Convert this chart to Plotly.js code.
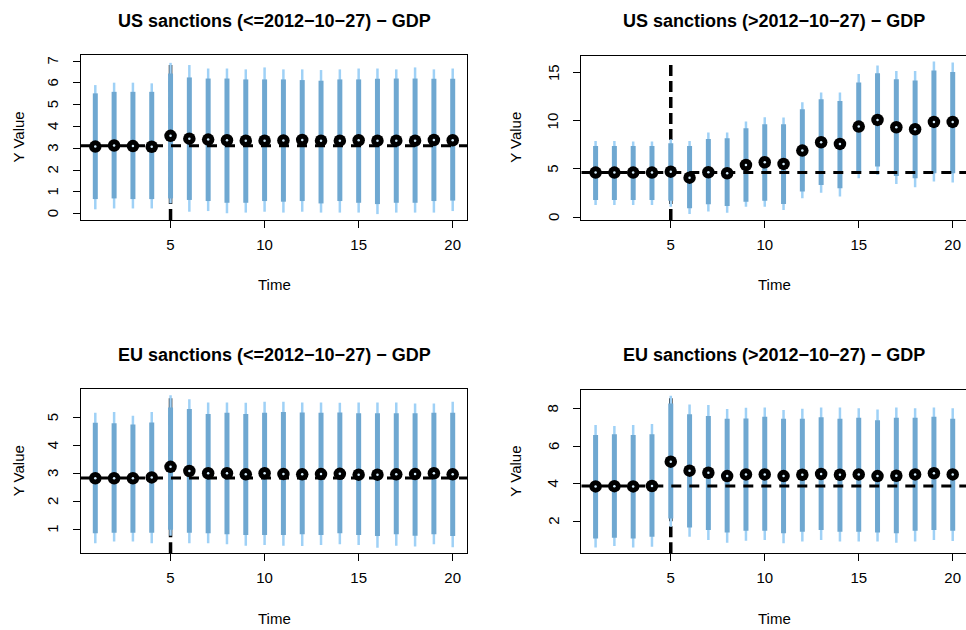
<!DOCTYPE html>
<html>
<head>
<meta charset="utf-8">
<script src="https://cdn.plot.ly/plotly-3.0.1.min.js"></script>
<style>
  html, body { margin: 0; padding: 0; overflow: hidden; background: #ffffff; }
  #chart { width: 980px; height: 630px; }
</style>
</head>
<body>
<div id="chart"></div>
<script>
// Time steps shared by every panel
const time = [1, 2, 3, 4, 5, 6, 7, 8, 9, 10, 11, 12, 13, 14, 15, 16, 17, 18, 19, 20];
const interventionTime = 5;
const xTicks = [5, 10, 15, 20];

// US sanctions (<=2012-10-27)
const usPrePoint   = [3.08, 3.13, 3.10, 3.07, 3.57, 3.44, 3.40, 3.37, 3.35, 3.35, 3.36, 3.38, 3.35, 3.35, 3.37, 3.35, 3.35, 3.35, 3.38, 3.37];
const usPreInnerHi = [5.52, 5.59, 5.59, 5.59, 6.43, 6.25, 6.20, 6.20, 6.16, 6.16, 6.16, 6.13, 6.10, 6.16, 6.16, 6.19, 6.20, 6.20, 6.19, 6.19];
const usPreInnerLo = [0.67, 0.70, 0.67, 0.67, 0.70, 0.63, 0.58, 0.50, 0.50, 0.58, 0.55, 0.58, 0.47, 0.58, 0.50, 0.44, 0.50, 0.50, 0.58, 0.60];
const usPreOuterHi = [5.90, 6.01, 6.01, 5.98, 6.92, 6.82, 6.66, 6.66, 6.62, 6.71, 6.62, 6.62, 6.59, 6.62, 6.66, 6.66, 6.62, 6.71, 6.62, 6.66];
const usPreOuterLo = [0.20, 0.24, 0.24, 0.24, 0.47, 0.09, 0.12, 0.02, 0.05, 0.09, 0.05, 0.09, 0.05, 0.05, 0.05, -0.02, 0.05, 0.05, 0.05, 0.12];
const usPreBaseline = 3.12;
const usPreYTicks = [0, 1, 2, 3, 4, 5, 6, 7];

// US sanctions (>2012-10-27)
const usPostPoint   = [4.62, 4.62, 4.62, 4.62, 4.72, 4.10, 4.66, 4.55, 5.41, 5.69, 5.52, 6.90, 7.76, 7.59, 9.38, 10.07, 9.31, 9.10, 9.86, 9.86];
const usPostInnerHi = [7.38, 7.38, 7.38, 7.38, 7.66, 7.38, 8.10, 8.17, 9.21, 9.62, 9.62, 11.17, 12.21, 12.03, 13.93, 14.90, 14.28, 14.14, 15.17, 15.03];
const usPostInnerLo = [1.79, 1.79, 1.79, 1.79, 1.70, 0.93, 1.34, 1.17, 1.62, 1.72, 1.38, 2.66, 3.34, 3.00, 4.66, 5.24, 4.28, 4.03, 4.55, 4.55];
const usPostOuterHi = [7.90, 7.90, 7.83, 7.83, 8.07, 7.90, 8.76, 8.76, 9.90, 10.34, 10.31, 11.90, 12.90, 12.90, 14.83, 15.69, 15.14, 15.14, 16.10, 16.00];
const usPostOuterLo = [1.28, 1.28, 1.28, 1.28, 1.10, 0.34, 0.59, 0.48, 1.10, 1.10, 0.76, 1.97, 2.55, 2.14, 4.03, 4.38, 3.45, 3.10, 3.69, 3.59];
const usPostBaseline = 4.62;
const usPostYTicks = [0, 5, 10, 15];

// EU sanctions (<=2012-10-27)
const euPrePoint   = [2.83, 2.83, 2.83, 2.86, 3.24, 3.09, 3.01, 3.01, 2.97, 3.01, 2.98, 2.97, 2.98, 2.99, 2.96, 2.96, 2.97, 2.98, 3.01, 2.97];
const euPreInnerHi = [4.82, 4.80, 4.76, 4.83, 5.37, 5.31, 5.13, 5.18, 5.13, 5.18, 5.21, 5.19, 5.18, 5.19, 5.16, 5.16, 5.16, 5.16, 5.18, 5.18];
const euPreInnerLo = [0.86, 0.88, 0.88, 0.88, 0.98, 0.88, 0.86, 0.82, 0.80, 0.80, 0.80, 0.82, 0.80, 0.86, 0.80, 0.76, 0.82, 0.77, 0.82, 0.76];
const euPreOuterHi = [5.18, 5.21, 5.07, 5.21, 5.81, 5.66, 5.55, 5.55, 5.54, 5.57, 5.57, 5.55, 5.55, 5.54, 5.55, 5.55, 5.55, 5.51, 5.51, 5.57];
const euPreOuterLo = [0.50, 0.56, 0.56, 0.50, 0.77, 0.50, 0.50, 0.46, 0.41, 0.44, 0.41, 0.40, 0.44, 0.46, 0.44, 0.34, 0.41, 0.38, 0.46, 0.36];
const euPreBaseline = 2.84;
const euPreYTicks = [1, 2, 3, 4, 5];

// EU sanctions (>2012-10-27)
const euPostPoint   = [3.85, 3.86, 3.85, 3.87, 5.17, 4.69, 4.58, 4.40, 4.49, 4.49, 4.40, 4.47, 4.51, 4.47, 4.49, 4.40, 4.42, 4.49, 4.55, 4.49];
const euPostInnerHi = [6.59, 6.63, 6.59, 6.63, 8.28, 7.71, 7.61, 7.47, 7.48, 7.57, 7.47, 7.47, 7.54, 7.47, 7.52, 7.39, 7.52, 7.52, 7.57, 7.47];
const euPostInnerLo = [1.07, 1.11, 1.07, 1.16, 2.14, 1.66, 1.52, 1.38, 1.48, 1.48, 1.34, 1.43, 1.52, 1.43, 1.43, 1.38, 1.34, 1.48, 1.52, 1.48];
const euPostOuterHi = [7.13, 7.07, 7.13, 7.18, 8.69, 8.23, 8.20, 7.98, 8.05, 8.07, 7.93, 8.00, 8.07, 8.07, 8.02, 7.96, 8.07, 8.02, 8.07, 8.02];
const euPostOuterLo = [0.58, 0.66, 0.58, 0.63, 1.70, 1.16, 0.99, 0.84, 0.95, 0.99, 0.81, 0.90, 0.99, 0.90, 0.90, 0.90, 0.84, 0.90, 0.99, 0.93];
const euPostBaseline = 3.87;
const euPostYTicks = [2, 4, 6, 8];

const titles = [
  "US sanctions (<=2012\u221210\u221227) \u2212 GDP",
  "US sanctions (>2012\u221210\u221227) \u2212 GDP",
  "EU sanctions (<=2012\u221210\u221227) \u2212 GDP",
  "EU sanctions (>2012\u221210\u221227) \u2212 GDP"
];

// Page geometry (pixels)
const W = 980, H = 630;
const FONT = "Liberation Sans, Arial, Helvetica, sans-serif";
const LABEL_SIZE = 15;
const xRange = [0.24, 20.76];

const panels = [
  { point: usPrePoint, innerHi: usPreInnerHi, innerLo: usPreInnerLo, outerHi: usPreOuterHi, outerLo: usPreOuterLo,
    baseline: usPreBaseline, yTicks: usPreYTicks, yRange: [-0.29, 7.28],
    box: { x0: 81, x1: 467, y0: 55, y1: 220 }, titleY: 21, xLabelY: 285, yLabelX: 18 },
  { point: usPostPoint, innerHi: usPostInnerHi, innerLo: usPostInnerLo, outerHi: usPostOuterHi, outerLo: usPostOuterLo,
    baseline: usPostBaseline, yTicks: usPostYTicks, yRange: [-0.28, 16.71],
    box: { x0: 581.3, x1: 967, y0: 55.7, y1: 220 }, titleY: 21, xLabelY: 285, yLabelX: 516 },
  { point: euPrePoint, innerHi: euPreInnerHi, innerLo: euPreInnerLo, outerHi: euPreOuterHi, outerLo: euPreOuterLo,
    baseline: euPreBaseline, yTicks: euPreYTicks, yRange: [0.14, 6.02],
    box: { x0: 81, x1: 467, y0: 389.3, y1: 553.3 }, titleY: 355, xLabelY: 618, yLabelX: 18 },
  { point: euPostPoint, innerHi: euPostInnerHi, innerLo: euPostInnerLo, outerHi: euPostOuterHi, outerLo: euPostOuterLo,
    baseline: euPostBaseline, yTicks: euPostYTicks, yRange: [0.275, 9.0],
    box: { x0: 581.3, x1: 967, y0: 390, y1: 553.3 }, titleY: 355, xLabelY: 618, yLabelX: 516 }
];

// Build vertical segments separated by gaps
function segments(xs, lo, hi) {
  const x = [], y = [];
  xs.forEach((t, i) => { x.push(t, t, null); y.push(lo[i], hi[i], null); });
  return { x, y };
}

const traces = [];
const shapes = [];
const annotations = [];
const layout = {
  width: W, height: H,
  margin: { l: 0, r: 0, t: 0, b: 0, pad: 0 },
  paper_bgcolor: "#ffffff", plot_bgcolor: "#ffffff",
  showlegend: false,
  font: { family: FONT, size: LABEL_SIZE, color: "#000000" }
};

panels.forEach((p, k) => {
  const n = k + 1;
  const xa = "x" + (n === 1 ? "" : n), ya = "y" + (n === 1 ? "" : n);
  const xKey = "xaxis" + (n === 1 ? "" : n), yKey = "yaxis" + (n === 1 ? "" : n);

  layout[xKey] = {
    domain: [p.box.x0 / W, p.box.x1 / W], anchor: ya,
    range: xRange, tickmode: "array", tickvals: xTicks,
    ticks: "outside", ticklen: 7, tickwidth: 1, tickcolor: "#000",
    showline: true, mirror: true, linecolor: "#000", linewidth: 1,
    showgrid: false, zeroline: false,
    tickfont: { family: FONT, size: LABEL_SIZE, color: "#000" }, ticklabelstandoff: 4
  };
  // y tick labels are written as rotated annotations (parallel to the axis)
  layout[yKey] = {
    domain: [1 - p.box.y1 / H, 1 - p.box.y0 / H], anchor: xa,
    range: p.yRange, tickmode: "array", tickvals: p.yTicks, showticklabels: false,
    ticks: "outside", ticklen: 7, tickwidth: 1, tickcolor: "#000",
    showline: true, mirror: true, linecolor: "#000", linewidth: 1,
    showgrid: false, zeroline: false
  };
  p.yTicks.forEach(v => {
    annotations.push({ xref: "paper", yref: ya, x: (p.box.x0 - 28.5) / W, y: v,
      xanchor: "center", yanchor: "middle", showarrow: false, text: String(v), textangle: -90,
      font: { family: FONT, size: LABEL_SIZE, color: "#000" } });
  });

  // intervention marker, drawn beneath the interval bars
  shapes.push({
    type: "line", layer: "below", xref: xa, yref: ya + " domain",
    x0: interventionTime, x1: interventionTime, y0: 0, y1: 0.96,
    line: { color: "#000", width: 3.5, dash: "11px,5px" }
  });

  const outer = segments(time, p.outerLo, p.outerHi);
  traces.push({ type: "scatter", mode: "lines", xaxis: xa, yaxis: ya, x: outer.x, y: outer.y,
    line: { color: "#9fd1f6", width: 2.5 }, hoverinfo: "skip", connectgaps: false });

  const inner = segments(time, p.innerLo, p.innerHi);
  traces.push({ type: "scatter", mode: "lines", xaxis: xa, yaxis: ya, x: inner.x, y: inner.y,
    line: { color: "#6fa8d1", width: 5 }, hoverinfo: "skip", connectgaps: false });

  // pre-period level
  traces.push({ type: "scatter", mode: "lines", xaxis: xa, yaxis: ya,
    x: xRange, y: [p.baseline, p.baseline],
    line: { color: "#000", width: 3, dash: "10px,8px" }, hoverinfo: "skip" });

  traces.push({ type: "scatter", mode: "markers", xaxis: xa, yaxis: ya, x: time, y: p.point,
    marker: { color: "#000", size: 12.5, line: { width: 0 } } });
  traces.push({ type: "scatter", mode: "markers", xaxis: xa, yaxis: ya, x: time, y: p.point,
    marker: { color: "#d4ecfb", size: 2.5, line: { width: 0 } }, hoverinfo: "skip" });

  const cx = (p.box.x0 + p.box.x1) / 2;
  annotations.push({ xref: "paper", yref: "paper", x: cx / W, y: 1 - p.titleY / H,
    xanchor: "center", yanchor: "middle", showarrow: false, text: "<b>" + titles[k] + "</b>",
    font: { family: FONT, size: 18, color: "#000" } });
  annotations.push({ xref: "paper", yref: "paper", x: cx / W, y: 1 - p.xLabelY / H,
    xanchor: "center", yanchor: "middle", showarrow: false, text: "Time",
    font: { family: FONT, size: LABEL_SIZE, color: "#000" } });
  annotations.push({ xref: "paper", yref: "paper", x: p.yLabelX / W, y: 1 - (p.box.y0 + p.box.y1) / 2 / H,
    xanchor: "center", yanchor: "middle", showarrow: false, text: "Y Value", textangle: -90,
    font: { family: FONT, size: LABEL_SIZE, color: "#000" } });
});

layout.shapes = shapes;
layout.annotations = annotations;

Plotly.newPlot("chart", traces, layout, { staticPlot: true, displayModeBar: false });
</script>
</body>
</html>
